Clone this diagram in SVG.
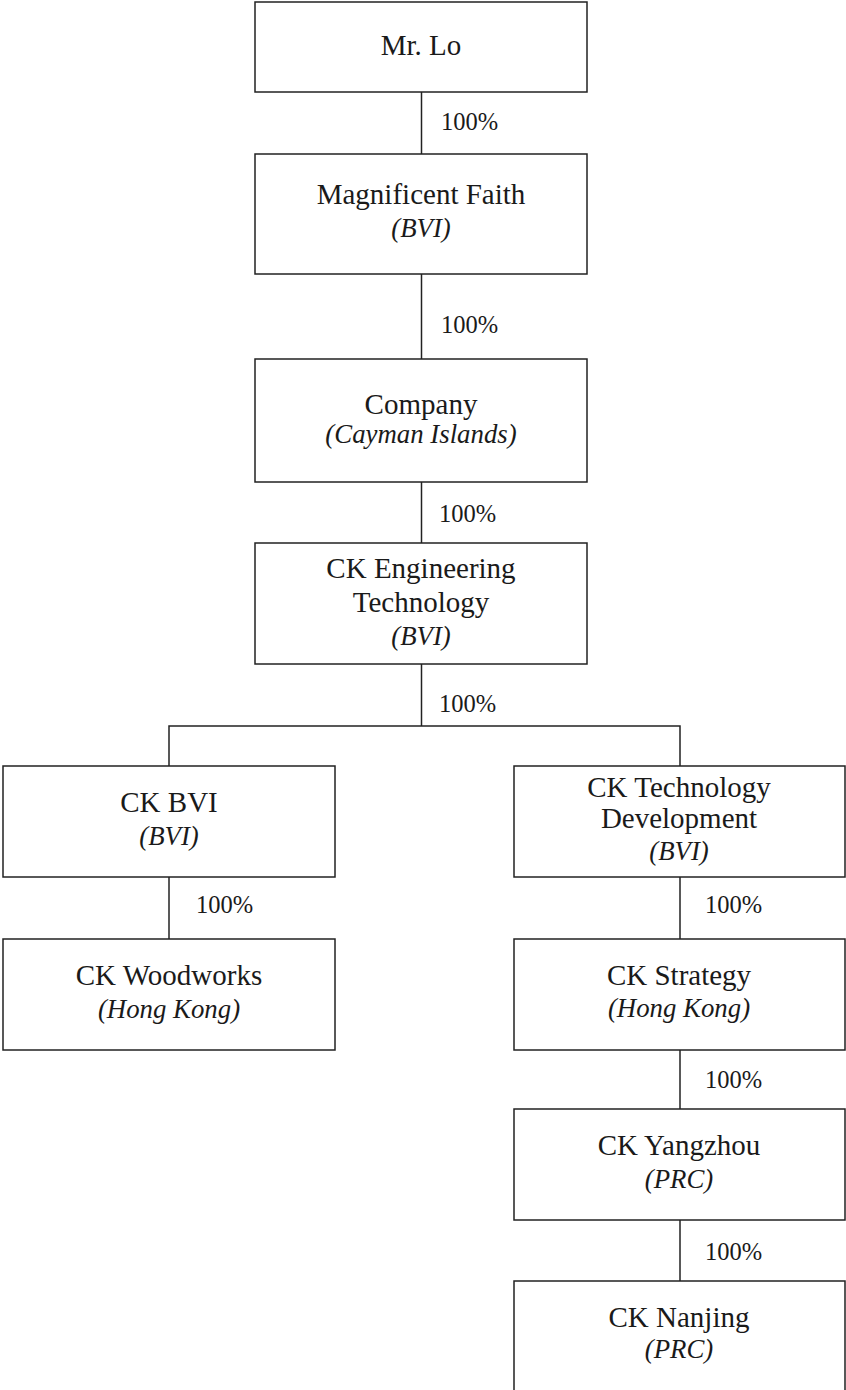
<svg xmlns="http://www.w3.org/2000/svg" width="846" height="1390" viewBox="0 0 846 1390">
<style>
.box{fill:#fff;stroke:#222;stroke-width:1.5}
.ln{stroke:#222;stroke-width:1.5;fill:none}
text{font-family:"Liberation Serif","Times New Roman",serif;fill:#1a1a1a}
.n{font-size:29px;text-anchor:middle}
.j{font-size:26.8px;font-style:italic;text-anchor:middle}
.p{font-size:24.5px}
</style>
<rect width="846" height="1390" fill="#fff"/>
<g id="connectors">
<line class="ln" x1="421.5" y1="92" x2="421.5" y2="154"/>
<line class="ln" x1="421.5" y1="274" x2="421.5" y2="359"/>
<line class="ln" x1="421.5" y1="482" x2="421.5" y2="543"/>
<line class="ln" x1="421.5" y1="664" x2="421.5" y2="726"/>
<polyline class="ln" points="169,766 169,726 680,726 680,766"/>
<line class="ln" x1="169" y1="877" x2="169" y2="939"/>
<line class="ln" x1="680" y1="877" x2="680" y2="939"/>
<line class="ln" x1="680" y1="1050" x2="680" y2="1109"/>
<line class="ln" x1="680" y1="1220" x2="680" y2="1281"/>
<text class="p" x="441" y="130">100%</text>
<text class="p" x="441" y="333">100%</text>
<text class="p" x="439" y="522">100%</text>
<text class="p" x="439" y="712">100%</text>
<text class="p" x="196" y="913">100%</text>
<text class="p" x="705" y="913">100%</text>
<text class="p" x="705" y="1088">100%</text>
<text class="p" x="705" y="1260">100%</text>
</g>
<g id="mr-lo">
<rect class="box" x="255" y="2" width="332" height="90"/>
<text class="n" x="421" y="55">Mr. Lo</text>
</g>
<g id="magnificent-faith">
<rect class="box" x="255" y="154" width="332" height="120"/>
<text class="n" x="421" y="204">Magnificent Faith</text>
<text class="j" x="421" y="237">(BVI)</text>
</g>
<g id="company">
<rect class="box" x="255" y="359" width="332" height="123"/>
<text class="n" x="421" y="414">Company</text>
<text class="j" x="421" y="443">(Cayman Islands)</text>
</g>
<g id="ck-engineering">
<rect class="box" x="255" y="543" width="332" height="121"/>
<text class="n" x="421" y="578">CK Engineering</text>
<text class="n" x="421" y="612">Technology</text>
<text class="j" x="421" y="645">(BVI)</text>
</g>
<g id="ck-bvi">
<rect class="box" x="3" y="766" width="332" height="111"/>
<text class="n" x="169" y="812">CK BVI</text>
<text class="j" x="169" y="845">(BVI)</text>
</g>
<g id="ck-technology">
<rect class="box" x="514" y="766" width="331" height="111"/>
<text class="n" x="679" y="797">CK Technology</text>
<text class="n" x="679" y="828">Development</text>
<text class="j" x="679" y="860">(BVI)</text>
</g>
<g id="ck-woodworks">
<rect class="box" x="3" y="939" width="332" height="111"/>
<text class="n" x="169" y="985">CK Woodworks</text>
<text class="j" x="169" y="1018">(Hong Kong)</text>
</g>
<g id="ck-strategy">
<rect class="box" x="514" y="939" width="331" height="111"/>
<text class="n" x="679" y="985">CK Strategy</text>
<text class="j" x="679" y="1017">(Hong Kong)</text>
</g>
<g id="ck-yangzhou">
<rect class="box" x="514" y="1109" width="331" height="111"/>
<text class="n" x="679" y="1155">CK Yangzhou</text>
<text class="j" x="679" y="1188">(PRC)</text>
</g>
<g id="ck-nanjing">
<path class="ln" d="M514,1391 V1281 H845 V1391"/>
<text class="n" x="679" y="1327">CK Nanjing</text>
<text class="j" x="679" y="1358">(PRC)</text>
</g>
</svg>
